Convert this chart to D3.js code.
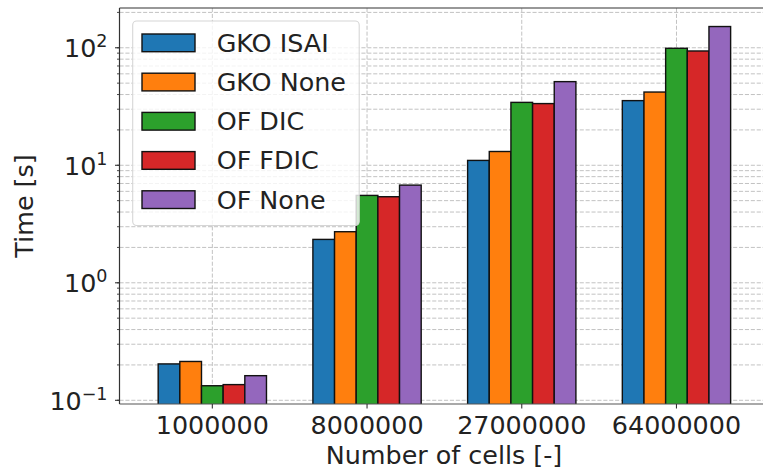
<!DOCTYPE html>
<html>
<head>
<meta charset="utf-8">
<script src="https://cdn.jsdelivr.net/npm/d3@7"></script>
<style>
  html, body { margin: 0; padding: 0; background: #fff; }
  svg { display: block; font-family: "DejaVu Sans", sans-serif; }
</style>
</head>
<body>
<script>
// ---- data ----
const categories = ["1000000", "8000000", "27000000", "64000000"];
const seriesNames = ["GKO ISAI", "GKO None", "OF DIC", "OF FDIC", "OF None"];
const gkoIsai = [0.204, 2.34, 11.0, 35.5];
const gkoNone = [0.214, 2.72, 13.1, 42.0];
const ofDic   = [0.133, 5.54, 34.3, 99.0];
const ofFdic  = [0.136, 5.40, 33.5, 93.9];
const ofNone  = [0.162, 6.78, 51.5, 151.6];
const yTickExps = [-1, 0, 1, 2];
const colors = ["#1f77b4", "#ff7f0e", "#2ca02c", "#d62728", "#9467bd"];

const seriesValues = [gkoIsai, gkoNone, ofDic, ofFdic, ofNone];

const W = 763, H = 470;
const pLeft = 119.5, pRight = 769.3, pTop = 8, pBottom = 404;
const fontSize = 25.4;

const svg = d3.select("body").append("svg")
  .attr("width", W).attr("height", H);

const x = d3.scaleLinear().domain([-0.6, 3.6]).range([pLeft, pRight]);
const y = d3.scaleLog().domain([0.093, 218]).range([pBottom, pTop]);

const groupWidth = 0.7;
const barW = groupWidth / seriesNames.length;

svg.append("clipPath").attr("id", "plotclip")
  .append("rect").attr("x", pLeft).attr("y", pTop).attr("width", pRight - pLeft).attr("height", pBottom - pTop);

const plot = svg.append("g").attr("clip-path", "url(#plotclip)");

// grid: minor + major horizontal
const gridColor = "#c2c2c2";
const minorVals = [];
for (let e = -2; e <= 2; e++) {
  for (let m = 1; m <= 9; m++) {
    const v = m * Math.pow(10, e);
    if (v >= y.domain()[0] && v <= y.domain()[1]) minorVals.push(v);
  }
}
plot.selectAll("line.hgrid").data(minorVals).enter().append("line")
  .attr("class", "hgrid")
  .attr("x1", pLeft).attr("x2", pRight)
  .attr("y1", d => y(d)).attr("y2", d => y(d))
  .attr("stroke", gridColor).attr("stroke-width", 1)
  .attr("stroke-dasharray", "4.1,1.8");

plot.selectAll("line.vgrid").data(categories).enter().append("line")
  .attr("class", "vgrid")
  .attr("x1", (d, i) => x(i)).attr("x2", (d, i) => x(i))
  .attr("y1", pTop).attr("y2", pBottom)
  .attr("stroke", gridColor).attr("stroke-width", 1)
  .attr("stroke-dasharray", "4.1,1.8");

// bars
seriesNames.forEach((name, s) => {
  plot.selectAll("rect.s" + s).data(seriesValues[s]).enter().append("rect")
    .attr("class", "s" + s)
    .attr("x", (d, i) => x(i - groupWidth / 2 + s * barW))
    .attr("width", x(barW) - x(0))
    .attr("y", d => y(d))
    .attr("height", d => pBottom + 5 - y(d))
    .attr("fill", colors[s])
    .attr("stroke", "#111").attr("stroke-width", 1.4);
});

// spines
svg.append("line").attr("x1", pLeft).attr("x2", W).attr("y1", pTop).attr("y2", pTop)
  .attr("stroke", "#333").attr("stroke-width", 1.2);
svg.append("line").attr("x1", pLeft).attr("x2", W).attr("y1", pBottom).attr("y2", pBottom)
  .attr("stroke", "#555").attr("stroke-width", 1.2);
svg.append("line").attr("x1", pLeft).attr("x2", pLeft).attr("y1", pTop).attr("y2", pBottom)
  .attr("stroke", "#333").attr("stroke-width", 1.2);

// y ticks
svg.selectAll("line.ymin").data(minorVals).enter().append("line")
  .attr("class", "ymin")
  .attr("x1", pLeft - 2.5).attr("x2", pLeft)
  .attr("y1", d => y(d)).attr("y2", d => y(d))
  .attr("stroke", "#333").attr("stroke-width", 0.9);
svg.selectAll("line.ymaj").data(yTickExps).enter().append("line")
  .attr("class", "ymaj")
  .attr("x1", pLeft - 4.5).attr("x2", pLeft)
  .attr("y1", d => y(Math.pow(10, d))).attr("y2", d => y(Math.pow(10, d)))
  .attr("stroke", "#333").attr("stroke-width", 1.1);

const yl = svg.selectAll("text.ytl").data(yTickExps).enter().append("text")
  .attr("class", "ytl")
  .attr("x", 107.5)
  .attr("y", d => y(Math.pow(10, d)) + 9.5)
  .attr("text-anchor", "end")
  .attr("font-size", fontSize)
  .attr("fill", "#222");
yl.append("tspan").text("10");
yl.append("tspan").attr("dy", -10).attr("font-size", 17.5)
  .text(d => d < 0 ? "\u2212" + Math.abs(d) : String(d));

// x ticks
svg.selectAll("line.xt").data(categories).enter().append("line")
  .attr("class", "xt")
  .attr("x1", (d, i) => x(i)).attr("x2", (d, i) => x(i))
  .attr("y1", pBottom).attr("y2", pBottom + 4.5)
  .attr("stroke", "#333").attr("stroke-width", 1.1);
svg.selectAll("text.xtl").data(categories).enter().append("text")
  .attr("class", "xtl")
  .attr("x", (d, i) => x(i)).attr("y", 434)
  .attr("text-anchor", "middle")
  .attr("font-size", fontSize).attr("fill", "#222")
  .text(d => d);

// axis labels
svg.append("text").attr("x", 444).attr("y", 464)
  .attr("text-anchor", "middle").attr("font-size", fontSize).attr("fill", "#222")
  .text("Number of cells [-]");
svg.append("text").attr("transform", "translate(33,206) rotate(-90)")
  .attr("text-anchor", "middle").attr("font-size", fontSize).attr("fill", "#222")
  .text("Time [s]");

// legend
const lg = svg.append("g");
lg.append("rect").attr("x", 132.7).attr("y", 21).attr("width", 226.5).attr("height", 204.5)
  .attr("rx", 4).attr("ry", 4)
  .attr("fill", "#fff").attr("fill-opacity", 0.8)
  .attr("stroke", "#d6d6d6").attr("stroke-width", 1.1);
const spacing = 39.2;
seriesNames.forEach((name, s) => {
  const yTop = 34 + s * spacing;
  lg.append("rect").attr("x", 142).attr("y", yTop).attr("width", 53).attr("height", 17.7)
    .attr("fill", colors[s]).attr("stroke", "#111").attr("stroke-width", 1.4);
  lg.append("text").attr("x", 216.7).attr("y", yTop + 17.7)
    .attr("font-size", fontSize).attr("fill", "#222").text(name);
});
</script>
</body>
</html>
